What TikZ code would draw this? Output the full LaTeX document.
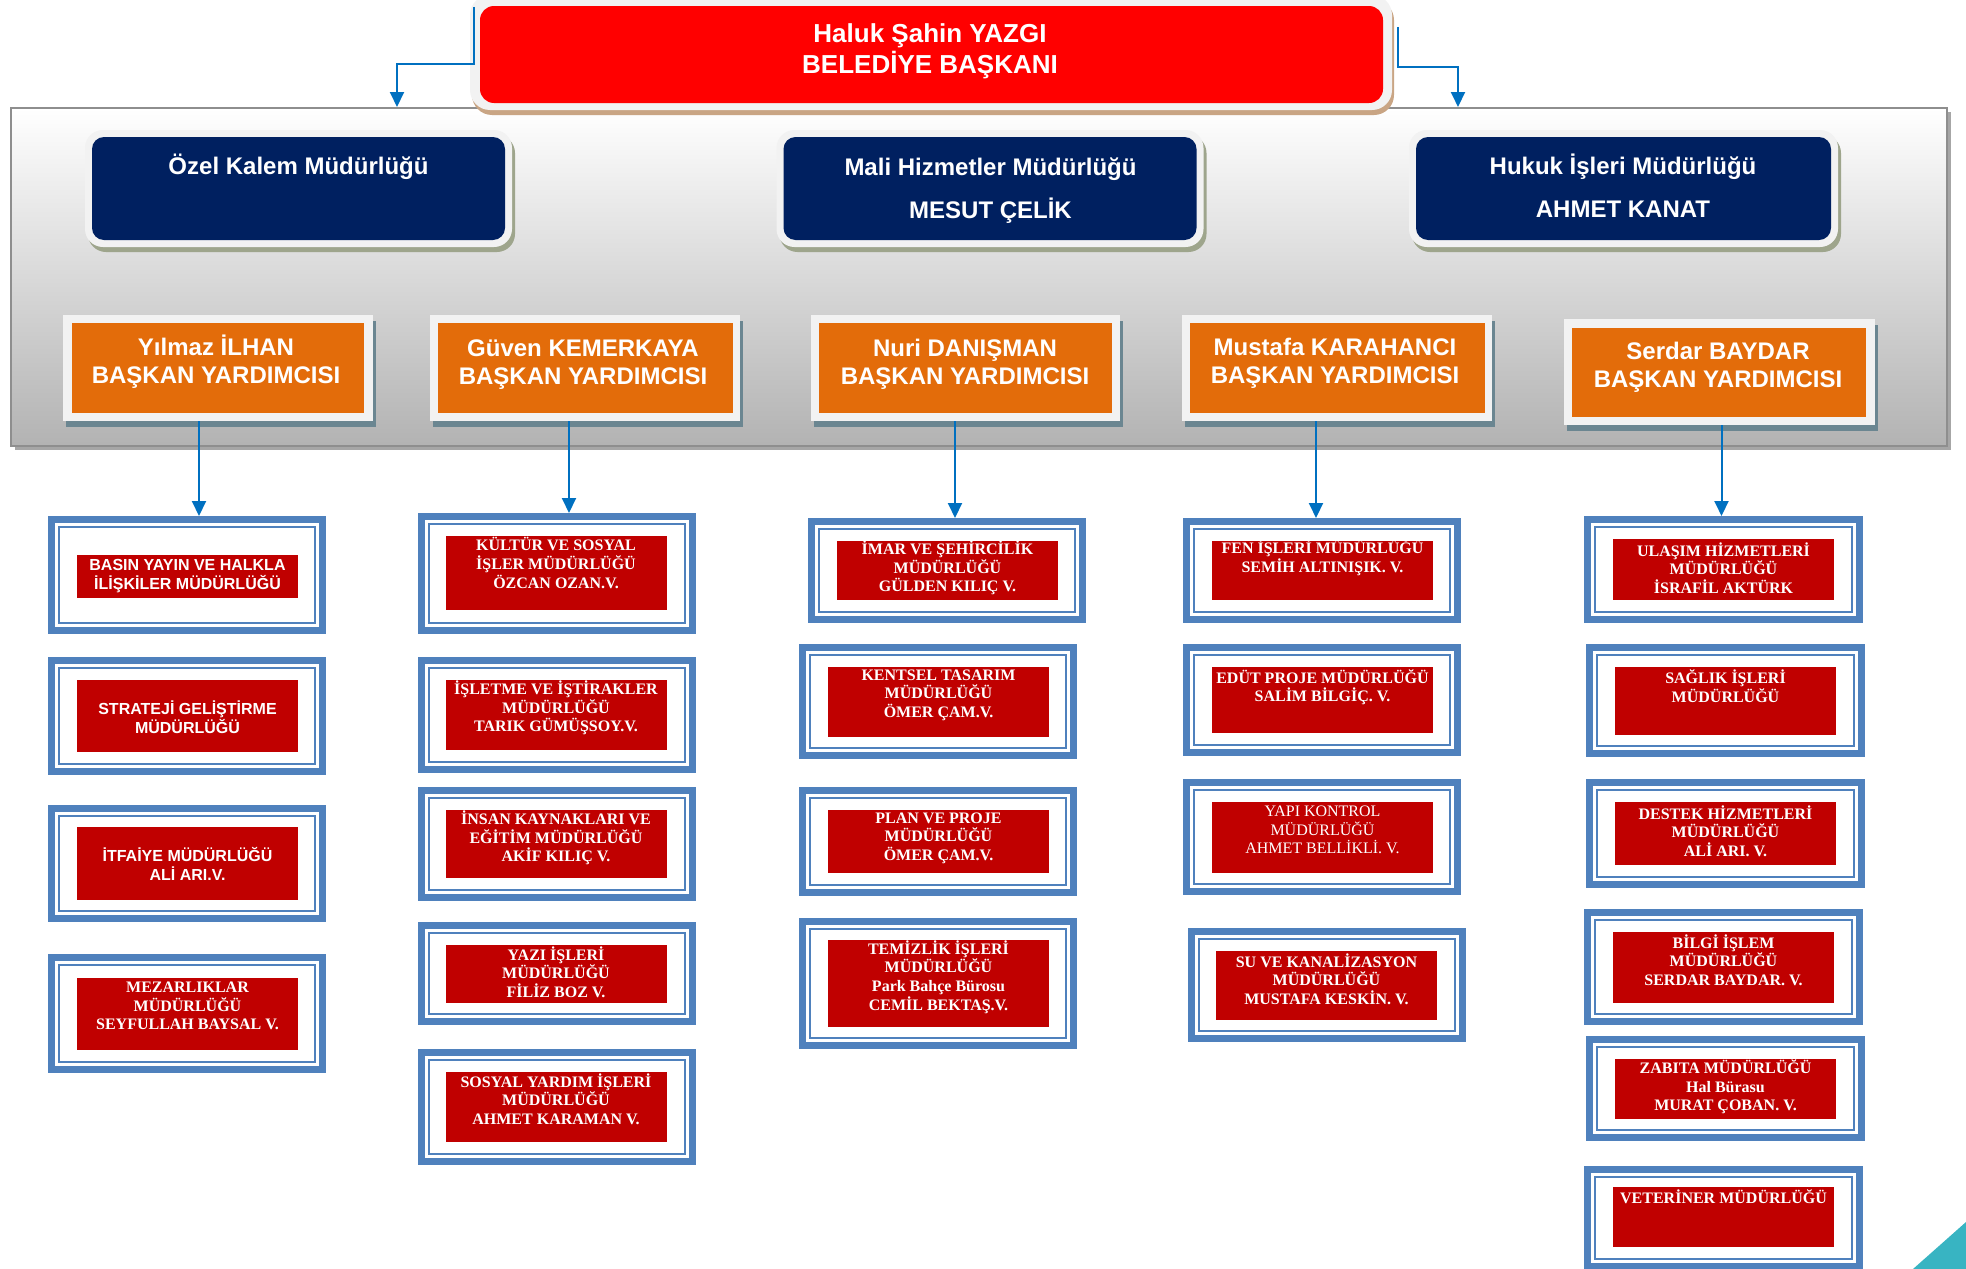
\documentclass[tikz,border=0pt]{standalone}
\usepackage{fontspec}
\usepackage{tikz,pgffor}
\usetikzlibrary{arrows.meta,shadows}

\newfontfamily\arialf{Liberation Sans}
\newfontfamily\timesf{Liberation Serif}

\definecolor{baskankirmizi}{HTML}{FF0000}
\definecolor{lacivert}{HTML}{002060}
\definecolor{turuncu}{HTML}{E36C0A}
\definecolor{mudkirmizi}{HTML}{C00000}
\definecolor{kutumavi}{HTML}{4F81BD}
\definecolor{okmavi}{HTML}{0070C0}
\definecolor{acikgri}{HTML}{F2F2F2}
\definecolor{panelgri}{HTML}{8E8E8E}
\definecolor{kahvegolge}{HTML}{C9A584}
\definecolor{zeytingolge}{HTML}{9EA58C}
\definecolor{arduvaz}{HTML}{6B8691}
\definecolor{camgobegi}{HTML}{38B4C2}

\begin{document}
\begin{tikzpicture}[x=1pt, y=-1pt,
every node/.style={inner sep=0pt},
conn/.style={draw=okmavi, line width=2pt, -{Triangle[length=15pt,width=14pt]}},
baskankasa/.style={fill=acikgri, rounded corners=20pt,
  drop shadow={shadow xshift=2pt, shadow yshift=-5pt, fill=kahvegolge, opacity=1}},
mudkasa/.style={fill=acikgri, rounded corners=18pt,
  drop shadow={shadow xshift=3pt, shadow yshift=-5pt, fill=zeytingolge, opacity=1}},
yrdkasa/.style={fill=acikgri,
  drop shadow={shadow xshift=3pt, shadow yshift=-6pt, fill=arduvaz, opacity=1}},
cerceve/.style={draw=kutumavi, fill=white, line width=7pt,
  path picture={\draw[kutumavi, line width=2pt]
  ([shift={(7.5pt,-7.5pt)}]path picture bounding box.north west) rectangle
  ([shift={(-7.5pt,7.5pt)}]path picture bounding box.south east);}},
mud/.style={fill=mudkirmizi},
buyukyazi/.style={text=white, align=center, font=\arialf\bfseries\fontsize{24}{28}\selectfont},
sansyazi/.style={text=white, align=center, font=\arialf\bfseries\fontsize{16}{19}\selectfont},
serifyazi/.style={text=white, align=center, font=\timesf\bfseries\fontsize{16}{18.6}\selectfont}
]

\useasboundingbox (0,0) rectangle (1966,1269);

%%%%%%%%%%%%%%%%%%%%%%%%%%%%%%%
% gri panel
\node[draw=panelgri, line width=2pt, top color=white, middle color=black!9, bottom color=black!30,
  drop shadow={shadow xshift=4pt, shadow yshift=-4pt, fill=black!35, opacity=1},
  minimum width=1936pt, minimum height=338pt] (panel) at (979,277) {};

%%%%%%%%%%%%%%%%%%%%%%%%%%%%%%%
% baskan
\node[baskankasa, minimum width=922pt, minimum height=115pt] (baskanf) at (931,52.5) {};
\node[fill=baskankirmizi, rounded corners=14pt, minimum width=903pt, minimum height=97pt] (baskan) at (931.5,54.5) {};
\node[text=white, align=center, font=\arialf\bfseries\fontsize{26}{31}\selectfont] (baskant) at (930,51.5)
  {Haluk Şahin YAZGI\\BELEDİYE BAŞKANI};

\coordinate (dirsekL) at (397,64);
\coordinate (dirsekR) at (1458,67);
\draw[conn] ([shift={(4pt,-12pt)}]baskanf.north west) |- (dirsekL) -- (dirsekL |- panel.north);
\draw[conn] ([shift={(6pt,-32pt)}]baskanf.north east) |- (dirsekR) -- (dirsekR |- panel.north);

%%%%%%%%%%%%%%%%%%%%%%%%%%%%%%%
% mudurlukler (lacivert)
\node[mudkasa, minimum width=427pt, minimum height=117pt] (ozelf) at (298.5,188.5) {};
\node[fill=lacivert, rounded corners=12pt, minimum width=413pt, minimum height=103pt] (ozel) at (298.5,188.5) {};
\node[buyukyazi] (ozelt) at (298.5,167) {Özel Kalem Müdürlüğü};

\node[mudkasa, minimum width=427pt, minimum height=117pt] (malif) at (990,188.5) {};
\node[fill=lacivert, rounded corners=12pt, minimum width=413pt, minimum height=103pt] (mali) at (990,188.5) {};
\node[buyukyazi, font=\arialf\bfseries\fontsize{24}{43}\selectfont] (malit) at (990.5,190.5)
  {Mali Hizmetler Müdürlüğü\\MESUT ÇELİK};

\node[mudkasa, minimum width=429pt, minimum height=117pt] (hukukf) at (1623.5,188.5) {};
\node[fill=lacivert, rounded corners=12pt, minimum width=415pt, minimum height=103pt] (hukuk) at (1623.5,188.5) {};
\node[buyukyazi, font=\arialf\bfseries\fontsize{24}{43}\selectfont] (hukukt) at (1623,186)
  {Hukuk İşleri Müdürlüğü\\AHMET KANAT};

%%%%%%%%%%%%%%%%%%%%%%%%%%%%%%%
% baskan yardimcilari
\node[yrdkasa, minimum width=310pt, minimum height=106pt] (yf1) at (217.5,368) {};
\node[fill=turuncu, minimum width=292pt, minimum height=90pt] (y1) at (217.5,368) {};
\node[buyukyazi] (yt1) at (216,362) {Yılmaz İLHAN\\BAŞKAN YARDIMCISI};

\node[yrdkasa, minimum width=310pt, minimum height=106pt] (yf2) at (585,368) {};
\node[fill=turuncu, minimum width=295pt, minimum height=90pt] (y2) at (585,368) {};
\node[buyukyazi] (yt2) at (583,364.5) {Güven KEMERKAYA\\BAŞKAN YARDIMCISI};

\node[yrdkasa, minimum width=309pt, minimum height=106pt] (yf3) at (965.3,368) {};
\node[fill=turuncu, minimum width=293pt, minimum height=90pt] (y3) at (965.3,368) {};
\node[buyukyazi] (yt3) at (965,364) {Nuri DANIŞMAN\\BAŞKAN YARDIMCISI};

\node[yrdkasa, minimum width=310pt, minimum height=106pt] (yf4) at (1337,368) {};
\node[fill=turuncu, minimum width=295pt, minimum height=90pt] (y4) at (1337,368) {};
\node[buyukyazi] (yt4) at (1335,363) {Mustafa KARAHANCI\\BAŞKAN YARDIMCISI};

\node[yrdkasa, minimum width=311pt, minimum height=106pt] (yf5) at (1719,372) {};
\node[fill=turuncu, minimum width=294pt, minimum height=89pt] (y5) at (1719,372.5) {};
\node[buyukyazi] (yt5) at (1718,367) {Serdar BAYDAR\\BAŞKAN YARDIMCISI};

%%%%%%%%%%%%%%%%%%%%%%%%%%%%%%%
% 1. sutun
\node[cerceve, minimum width=271pt, minimum height=111pt] (k11) at (187,575) {};
\node[mud, minimum width=221pt, minimum height=43pt] (r11) at (187.5,576.5) {};
\node[sansyazi] (t11) at (187.5,576) {BASIN YAYIN VE HALKLA\\İLİŞKİLER MÜDÜRLÜĞÜ};

\node[cerceve, minimum width=271pt, minimum height=111pt] (k12) at (187,716) {};
\node[mud, minimum width=221pt, minimum height=72pt] (r12) at (187.5,716) {};
\node[sansyazi] (t12) at (187.5,717) {STRATEJİ GELİŞTİRME\\MÜDÜRLÜĞÜ};

\node[cerceve, minimum width=271pt, minimum height=110pt] (k13) at (187,863.5) {};
\node[mud, minimum width=221pt, minimum height=73pt] (r13) at (187.5,863.5) {};
\node[sansyazi] (t13) at (187.5,864) {İTFAİYE MÜDÜRLÜĞÜ\\ALİ ARI.V.};

\node[cerceve, minimum width=271pt, minimum height=112pt] (k14) at (187,1013.5) {};
\node[mud, minimum width=221pt, minimum height=72pt] (r14) at (187.5,1014) {};
\node[serifyazi] (t14) at (187.5,1006) {MEZARLIKLAR\\MÜDÜRLÜĞÜ\\SEYFULLAH BAYSAL V.};

%%%%%%%%%%%%%%%%%%%%%%%%%%%%%%%
% 2. sutun
\node[cerceve, minimum width=271pt, minimum height=114pt] (k21) at (556.5,573.5) {};
\node[mud, minimum width=221pt, minimum height=74pt] (r21) at (556.5,573) {};
\node[serifyazi] (t21) at (556,563) {KÜLTÜR VE SOSYAL\\İŞLER MÜDÜRLÜĞÜ\\ÖZCAN OZAN.V.};

\node[cerceve, minimum width=271pt, minimum height=109pt] (k22) at (556.5,715) {};
\node[mud, minimum width=221pt, minimum height=70pt] (r22) at (556.5,715) {};
\node[serifyazi] (t22) at (556,708) {İŞLETME VE İŞTİRAKLER\\MÜDÜRLÜĞÜ\\TARIK GÜMÜŞSOY.V.};

\node[cerceve, minimum width=271pt, minimum height=107pt] (k23) at (556.5,844) {};
\node[mud, minimum width=221pt, minimum height=68pt] (r23) at (556.5,844) {};
\node[serifyazi] (t23) at (556,838) {İNSAN KAYNAKLARI VE\\EĞİTİM MÜDÜRLÜĞÜ\\AKİF KILIÇ V.};

\node[cerceve, minimum width=271pt, minimum height=96pt] (k24) at (556.5,973.5) {};
\node[mud, minimum width=221pt, minimum height=58pt] (r24) at (556.5,974) {};
\node[serifyazi] (t24) at (556,972) {YAZI İŞLERİ\\MÜDÜRLÜĞÜ\\FİLİZ BOZ V.};

\node[cerceve, minimum width=271pt, minimum height=109pt] (k25) at (556.5,1107) {};
\node[mud, minimum width=221pt, minimum height=70pt] (r25) at (556.5,1107) {};
\node[serifyazi] (t25) at (556,1099) {SOSYAL YARDIM İŞLERİ\\MÜDÜRLÜĞÜ\\AHMET KARAMAN V.};

%%%%%%%%%%%%%%%%%%%%%%%%%%%%%%%
% 3. sutun
\node[cerceve, minimum width=271pt, minimum height=98pt] (k31) at (947,570.5) {};
\node[mud, minimum width=221pt, minimum height=59pt] (r31) at (947.5,570.5) {};
\node[serifyazi] (t31) at (947.5,568) {İMAR VE ŞEHİRCİLİK\\MÜDÜRLÜĞÜ\\GÜLDEN KILIÇ V.};

\node[cerceve, minimum width=271pt, minimum height=108pt] (k32) at (937.5,701.5) {};
\node[mud, minimum width=221pt, minimum height=70pt] (r32) at (938.5,702) {};
\node[serifyazi] (t32) at (938.5,695) {KENTSEL TASARIM\\MÜDÜRLÜĞÜ\\ÖMER ÇAM.V.};

\node[cerceve, minimum width=271pt, minimum height=102pt] (k33) at (937.5,841.5) {};
\node[mud, minimum width=221pt, minimum height=63pt] (r33) at (938.5,841.5) {};
\node[serifyazi] (t33) at (938.5,838) {PLAN VE PROJE\\MÜDÜRLÜĞÜ\\ÖMER ÇAM.V.};

\node[cerceve, minimum width=271pt, minimum height=124pt] (k34) at (937.5,983.5) {};
\node[mud, minimum width=221pt, minimum height=87pt] (r34) at (938.5,983.5) {};
\node[serifyazi] (t34) at (938.5,977) {TEMİZLİK İŞLERİ\\MÜDÜRLÜĞÜ\\Park Bahçe Bürosu\\CEMİL BEKTAŞ.V.};

%%%%%%%%%%%%%%%%%%%%%%%%%%%%%%%
% 4. sutun
\node[cerceve, minimum width=271pt, minimum height=98pt] (k41) at (1322,570.5) {};
\node[mud, minimum width=221pt, minimum height=59pt] (r41) at (1322.5,570.5) {};
\node[serifyazi] (t41) at (1322.5,558) {FEN İŞLERİ MÜDÜRLÜĞÜ\\SEMİH ALTINIŞIK. V.};

\node[cerceve, minimum width=271pt, minimum height=105pt] (k42) at (1322,700) {};
\node[mud, minimum width=221pt, minimum height=66pt] (r42) at (1322.5,700) {};
\node[serifyazi] (t42) at (1322.5,687) {EDÜT PROJE MÜDÜRLÜĞÜ\\SALİM BİLGİÇ. V.};

\node[cerceve, minimum width=271pt, minimum height=109pt] (k43) at (1322,837) {};
\node[mud, minimum width=221pt, minimum height=71pt] (r43) at (1322.5,837.5) {};
\node[serifyazi, font=\timesf\fontsize{16}{18.6}\selectfont] (t43) at (1322.5,830) {YAPI KONTROL\\MÜDÜRLÜĞÜ\\AHMET BELLİKLİ. V.};

\node[cerceve, minimum width=271pt, minimum height=107pt] (k44) at (1326.5,985) {};
\node[mud, minimum width=221pt, minimum height=69pt] (r44) at (1326.5,985.5) {};
\node[serifyazi] (t44) at (1326.5,979) {SU VE KANALİZASYON\\MÜDÜRLÜĞÜ\\MUSTAFA KESKİN. V.};

%%%%%%%%%%%%%%%%%%%%%%%%%%%%%%%
% 5. sutun
\node[cerceve, minimum width=272pt, minimum height=100pt] (k51) at (1723.5,569.5) {};
\node[mud, minimum width=221pt, minimum height=61pt] (r51) at (1723.5,569.5) {};
\node[serifyazi] (t51) at (1723.5,568) {ULAŞIM HİZMETLERİ\\MÜDÜRLÜĞÜ\\İSRAFİL AKTÜRK};

\node[cerceve, minimum width=272pt, minimum height=106pt] (k52) at (1725.5,700.5) {};
\node[mud, minimum width=221pt, minimum height=68pt] (r52) at (1725.5,701) {};
\node[serifyazi] (t52) at (1725.5,686) {SAĞLIK İŞLERİ\\MÜDÜRLÜĞÜ};

\node[cerceve, minimum width=272pt, minimum height=102pt] (k53) at (1725.5,833.5) {};
\node[mud, minimum width=221pt, minimum height=63pt] (r53) at (1725.5,833.5) {};
\node[serifyazi] (t53) at (1725.5,831) {DESTEK HİZMETLERİ\\MÜDÜRLÜĞÜ\\ALİ ARI. V.};

\node[cerceve, minimum width=272pt, minimum height=109pt] (k54) at (1723.5,967) {};
\node[mud, minimum width=221pt, minimum height=71pt] (r54) at (1723.5,967.5) {};
\node[serifyazi] (t54) at (1723.5,960) {BİLGİ İŞLEM\\MÜDÜRLÜĞÜ\\SERDAR BAYDAR. V.};

\node[cerceve, minimum width=272pt, minimum height=98pt] (k55) at (1725.5,1088.5) {};
\node[mud, minimum width=221pt, minimum height=60pt] (r55) at (1725.5,1089) {};
\node[serifyazi] (t55) at (1725.5,1087) {ZABITA MÜDÜRLÜĞÜ\\Hal Bürasu\\MURAT ÇOBAN. V.};

\node[cerceve, minimum width=272pt, minimum height=97pt] (k56) at (1723.5,1218) {};
\node[mud, minimum width=221pt, minimum height=60pt] (r56) at (1723.5,1217) {};
\node[serifyazi] (t56) at (1723.5,1197) {VETERİNER MÜDÜRLÜĞÜ};

%%%%%%%%%%%%%%%%%%%%%%%%%%%%%%%
% oklar
\draw[conn] ([xshift=-18.5pt]yf1.south) -- ([xshift=-18.5pt]yf1.south |- k11.north);
\draw[conn] ([xshift=-16pt]yf2.south) -- ([xshift=-16pt]yf2.south |- k21.north);
\draw[conn] ([xshift=-10.3pt]yf3.south) -- ([xshift=-10.3pt]yf3.south |- k31.north);
\draw[conn] ([xshift=-21pt]yf4.south) -- ([xshift=-21pt]yf4.south |- k41.north);
\draw[conn] ([xshift=2.5pt]yf5.south) -- ([xshift=2.5pt]yf5.south |- k51.north);

% kose ucgeni
\fill[camgobegi] (1913,1269) -- (1966,1222) -- (1966,1269) -- cycle;

\end{tikzpicture}
\end{document}
